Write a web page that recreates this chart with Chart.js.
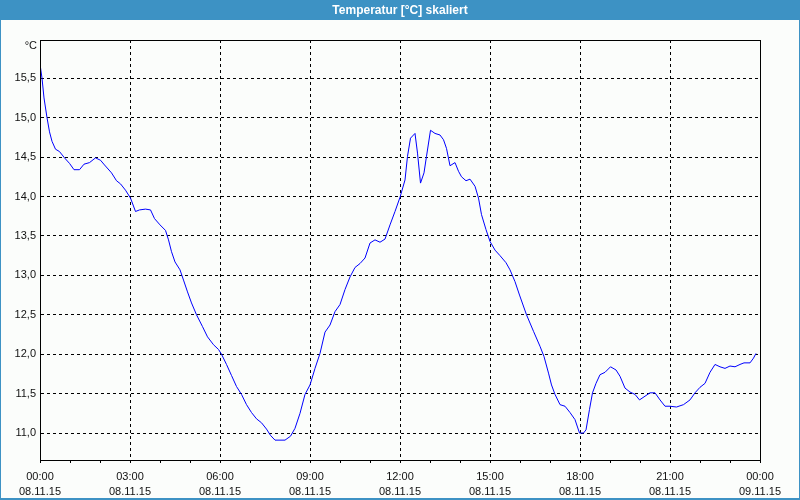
<!DOCTYPE html>
<html><head><meta charset="utf-8">
<script src="https://cdn.jsdelivr.net/npm/chart.js@4"></script>
<style>html,body{margin:0;padding:0;background:#fbfdfb}#wrap{width:800px;height:500px;position:relative}</style>
</head><body><div id="wrap"><canvas id="c" width="800" height="500"></canvas></div>
<script>
const titleText = 'Temperatur [°C] skaliert';
const unitLabel = '°C';
// minutes since 08.11.15 00:00
const timesMin = [0,4,8,14,19,24,31,39,49,59,68,79,88,99,111,121,129,143,153,161,171,181,191,199,211,221,229,240,251,257,263,270,280,287,295,303,313,325,335,347,357,363,373,383,393,403,413,423,433,443,453,461,470,490,501,510,520,530,540,550,560,570,580,590,600,610,620,630,640,650,660,670,680,690,700,710,720,730,735,741,750,755,761,768,773,781,790,800,807,813,820,830,837,843,852,860,870,877,883,892,900,910,920,932,940,950,959,973,987,1000,1008,1017,1023,1030,1040,1050,1060,1070,1079,1087,1092,1099,1105,1112,1120,1130,1141,1152,1160,1170,1180,1190,1199,1220,1230,1240,1250,1260,1273,1287,1300,1310,1320,1330,1340,1350,1360,1370,1380,1390,1400,1408,1420,1427,1432];
const temps = [15.68,15.50,15.25,15.00,14.82,14.70,14.60,14.57,14.49,14.42,14.34,14.34,14.41,14.43,14.49,14.46,14.40,14.30,14.20,14.16,14.08,13.98,13.81,13.83,13.84,13.83,13.72,13.64,13.57,13.45,13.30,13.17,13.07,12.94,12.79,12.65,12.50,12.35,12.22,12.12,12.06,12.00,11.87,11.73,11.59,11.49,11.36,11.26,11.18,11.13,11.05,10.97,10.91,10.91,10.96,11.06,11.25,11.49,11.61,11.82,12.01,12.28,12.37,12.54,12.63,12.82,12.98,13.10,13.15,13.22,13.41,13.45,13.42,13.46,13.64,13.81,13.99,14.21,14.51,14.74,14.80,14.55,14.17,14.30,14.51,14.84,14.80,14.78,14.72,14.61,14.39,14.43,14.32,14.25,14.20,14.22,14.13,13.98,13.77,13.58,13.43,13.32,13.25,13.16,13.07,12.92,12.75,12.50,12.29,12.10,11.97,11.76,11.61,11.49,11.36,11.34,11.26,11.17,11.00,11.00,11.04,11.30,11.51,11.63,11.74,11.77,11.84,11.80,11.72,11.57,11.52,11.49,11.42,11.51,11.51,11.42,11.34,11.34,11.33,11.36,11.42,11.51,11.58,11.63,11.77,11.87,11.84,11.82,11.85,11.84,11.87,11.89,11.89,11.95,12.01];
const xTickLabels = [['00:00','08.11.15'],['03:00','08.11.15'],['06:00','08.11.15'],['09:00','08.11.15'],['12:00','08.11.15'],['15:00','08.11.15'],['18:00','08.11.15'],['21:00','08.11.15'],['00:00','09.11.15']];
const yTicks = [11.0,11.5,12.0,12.5,13.0,13.5,14.0,14.5,15.0,15.5];

const FONT = 'Liberation Sans';
const BAR = 'rgb(61,146,196)';

const framePlugin = {
  id: 'frame',
  beforeDraw(chart) {
    const ctx = chart.ctx;
    ctx.save();
    ctx.fillStyle = '#fbfdfb';
    ctx.fillRect(0, 0, 800, 500);
    ctx.fillStyle = BAR;
    ctx.fillRect(0, 0, 800, 20);
    ctx.fillRect(0, 0, 1, 500);
    ctx.fillRect(799, 0, 1, 500);
    ctx.fillRect(0, 498, 800, 2);
    ctx.fillStyle = '#ffffff';
    ctx.font = 'bold 12px "' + FONT + '"';
    ctx.textAlign = 'center';
    ctx.textBaseline = 'middle';
    ctx.fillText(titleText, 400, 10.5);
    ctx.restore();
  },
  afterDraw(chart) {
    const ctx = chart.ctx, a = chart.chartArea;
    ctx.save();
    ctx.strokeStyle = '#000';
    ctx.lineWidth = 1;
    ctx.setLineDash([]);
    ctx.strokeRect(Math.round(a.left) + 0.5, Math.round(a.top) + 0.5, Math.round(a.right - a.left), Math.round(a.bottom - a.top));
    ctx.fillStyle = '#111';
    ctx.font = '11px "' + FONT + '"';
    ctx.textAlign = 'right';
    ctx.textBaseline = 'middle';
    ctx.fillText(unitLabel, 37, 46);
    ctx.restore();
  }
};

new Chart(document.getElementById('c'), {
  type: 'line',
  data: {
    datasets: [{
      data: timesMin.map((t, i) => ({x: t, y: temps[i]})),
      borderColor: '#0000ff',
      borderWidth: 1,
      pointRadius: 0,
      tension: 0,
      fill: false
    }]
  },
  options: {
    responsive: false,
    animation: false,
    devicePixelRatio: 1,
    layout: {padding: {top: 40, right: 40, left: 0, bottom: 0}},
    plugins: {legend: {display: false}, title: {display: false}, tooltip: {enabled: false}},
    scales: {
      x: {
        type: 'linear', min: 0, max: 1440,
        afterFit: s => { s.height = 40; },
        ticks: {
          stepSize: 60, autoSkip: false, maxRotation: 0, minRotation: 0,
          color: '#111', font: {family: FONT, size: 11, lineHeight: 1.4}, padding: 6,
          callback: v => (v % 180 === 0 ? xTickLabels[v / 180] : '')
        },
        grid: {
          color: c => (c.tick && c.tick.value % 180 === 0) ? '#000' : 'rgba(0,0,0,0)',
          lineWidth: 1, drawTicks: true, tickLength: 3, tickColor: '#000', tickWidth: 1, tickBorderDash: []
        },
        border: {display: true, color: '#000', width: 1, dash: [3, 3]}
      },
      y: {
        min: 10.658, max: 15.985,
        afterFit: s => { s.width = 40; },
        afterBuildTicks: s => { s.ticks = yTicks.map(v => ({value: v})); },
        ticks: {
          color: '#111', font: {family: FONT, size: 11}, padding: 4,
          callback: v => Number(v).toFixed(1).replace('.', ',')
        },
        grid: {color: '#000', lineWidth: 1, drawTicks: false},
        border: {display: true, color: '#000', width: 1, dash: [3, 3]}
      }
    }
  },
  plugins: [framePlugin]
});
</script>
</body></html>
